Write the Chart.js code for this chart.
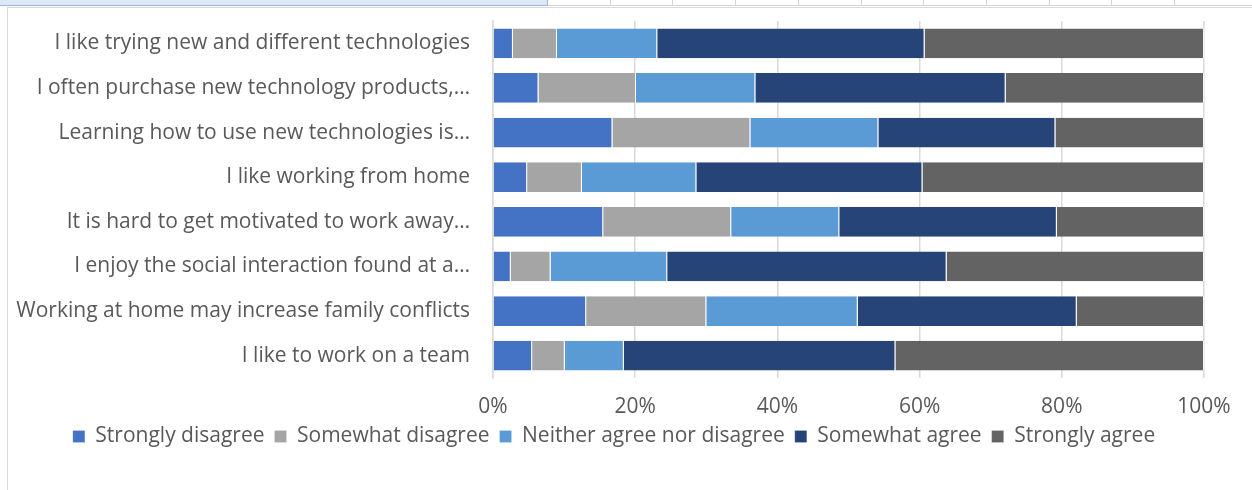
<!DOCTYPE html>
<html>
<head>
<meta charset="utf-8">
<script src="https://cdn.jsdelivr.net/npm/chart.js@4"></script>
<style>
  html, body { margin: 0; padding: 0; background: #fff; overflow: hidden; }
  body { width: 1252px; height: 490px; position: relative; }
  /* spreadsheet row peeking above the chart */
  .sheet-row { position: absolute; left: 0; top: 0; width: 1252px; height: 5px; border-bottom: 1px solid #d4d4d4; }
  .sheet-row .sel { position: absolute; left: 0; top: 0; width: 547px; height: 5px; background: #dde8f5; border-right: 1px solid #9bb8dd; border-bottom: 1px solid #9bb8dd; }
  .sheet-row .cell { position: absolute; top: 0; height: 6px; border-left: 1px solid #d4d4d4; }
  .frame { position: absolute; left: 7px; top: 7px; width: 1245px; height: 483px; border-left: 1px solid #d9d9d9; border-top: 1px solid #d9d9d9; }
  .chart-box { position: absolute; left: 0; top: 0; width: 1230px; height: 482px; }
</style>
</head>
<body>
<div class="sheet-row">
  <div class="sel"></div>
  <div class="cell" style="left:610px"></div>
  <div class="cell" style="left:672px"></div>
  <div class="cell" style="left:735px"></div>
  <div class="cell" style="left:798px"></div>
  <div class="cell" style="left:861px"></div>
  <div class="cell" style="left:923px"></div>
  <div class="cell" style="left:986px"></div>
  <div class="cell" style="left:1049px"></div>
  <div class="cell" style="left:1111px"></div>
  <div class="cell" style="left:1174px"></div>
</div>
<div class="frame">
  <div class="chart-box"><canvas id="surveyChart"></canvas></div>
</div>
<script>
// Survey statements, top to bottom
const statements = [
    "I like trying new and different technologies",
    "I often purchase new technology products,\u2026",
    "Learning how to use new technologies is\u2026",
    "I like working from home",
    "It is hard to get motivated to work away\u2026",
    "I enjoy the social interaction found at a\u2026",
    "Working at home may increase family conflicts",
    "I like to work on a team"
];

// Share of responses (%) per statement
const stronglyDisagree = [2.8, 6.4, 16.8, 4.8, 15.5, 2.5, 13.1, 5.5];
const somewhatDisagree = [6.2, 13.7, 19.4, 7.7, 18.0, 5.6, 16.9, 4.6];
const neitherAgree     = [14.1, 16.8, 18.0, 16.1, 15.2, 16.4, 21.3, 8.3];
const somewhatAgree    = [37.6, 35.2, 24.9, 31.8, 30.6, 39.3, 30.8, 38.2];
const stronglyAgree    = [39.3, 27.9, 20.9, 39.6, 20.7, 36.2, 17.9, 43.4];

const percentTicks = [0, 20, 40, 60, 80, 100];

const FONT = "'Open Sans'";
const FONT_SIZE = 21;
const TEXT_COLOR = "#595959";
const LEGEND_SHIFT = 8; // legend sits a bit right of the canvas centre

function makeSet(label, data, color) {
    return {
        label: label,
        data: data,
        backgroundColor: color,
        borderColor: "rgba(255,255,255,0.7)",
        borderWidth: { top: 0, bottom: 0, left: 0, right: 1 },
        borderSkipped: false,
        barPercentage: 0.667,
        categoryPercentage: 1
    };
}

// nudge the legend box sideways after layout
const legendNudge = {
    id: "legendNudge",
    afterLayout(chart) {
        if (chart.legend) {
            chart.legend.left += LEGEND_SHIFT;
            chart.legend.right += LEGEND_SHIFT;
        }
    }
};

const ctx = document.getElementById("surveyChart").getContext("2d");
const surveyChart = new Chart(ctx, {
    type: "bar",
    data: {
        labels: statements,
        datasets: [
            makeSet("Strongly disagree", stronglyDisagree, "#4472c4"),
            makeSet("Somewhat disagree", somewhatDisagree, "#a5a5a5"),
            makeSet("Neither agree nor disagree", neitherAgree, "#5b9bd5"),
            makeSet("Somewhat agree", somewhatAgree, "#264478"),
            makeSet("Strongly agree", stronglyAgree, "#636363")
        ]
    },
    plugins: [legendNudge],
    options: {
        indexAxis: "y",
        responsive: true,
        maintainAspectRatio: false,
        animation: false,
        layout: {
            padding: { left: 0, right: 34, top: 13, bottom: 33 }
        },
        plugins: {
            tooltip: { enabled: false },
            legend: {
                position: "bottom",
                labels: {
                    boxWidth: 12,
                    boxHeight: 12,
                    padding: 10,
                    color: TEXT_COLOR,
                    font: { family: FONT, size: FONT_SIZE }
                }
            }
        },
        scales: {
            x: {
                stacked: true,
                min: 0,
                max: 100,
                afterBuildTicks: function (scale) {
                    scale.ticks = percentTicks.map(v => ({ value: v }));
                },
                afterFit: function (scale) {
                    scale.height = 38;
                    scale.paddingLeft = 0;
                    scale.paddingRight = 0;
                },
                grid: { color: "#d9d9d9", lineWidth: 1.5, drawTicks: false },
                border: { display: false },
                ticks: {
                    padding: 16,
                    color: TEXT_COLOR,
                    font: { family: FONT, size: FONT_SIZE },
                    callback: v => v + "%"
                }
            },
            y: {
                stacked: true,
                afterFit: function (scale) {
                    scale.width = 485;
                    scale.paddingTop = 0;
                    scale.paddingBottom = 0;
                },
                grid: { display: false, drawTicks: false },
                border: { display: true, color: "#d9d9d9", width: 1.5 },
                ticks: {
                    padding: 23,
                    color: TEXT_COLOR,
                    font: { family: FONT, size: FONT_SIZE }
                }
            }
        }
    }
});
</script>
</body>
</html>
